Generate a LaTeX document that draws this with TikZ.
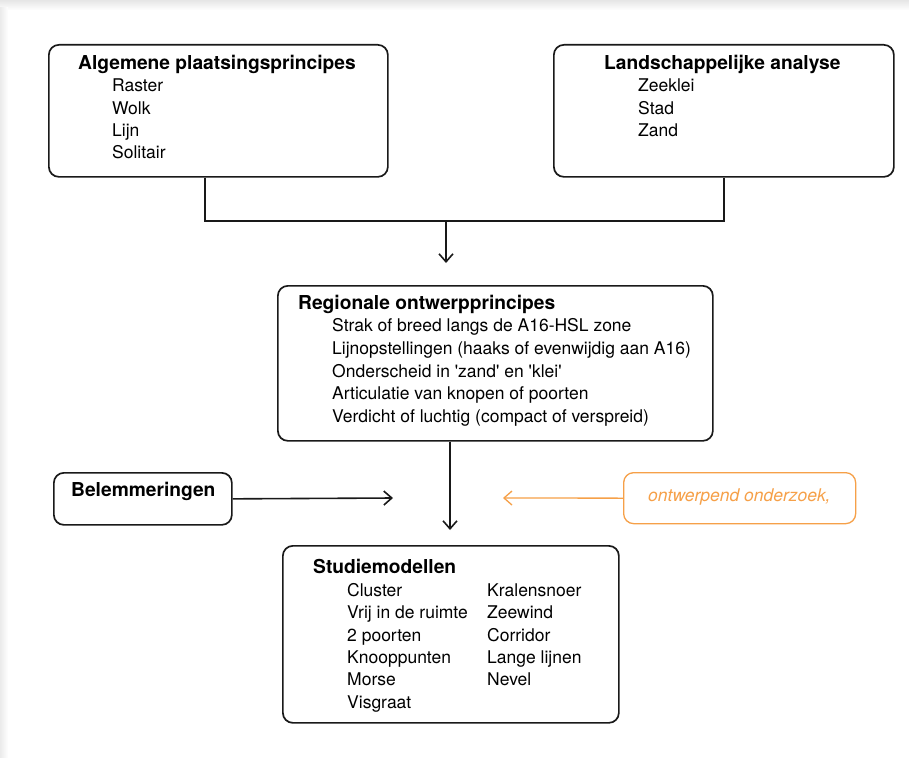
\documentclass[tikz,border=0pt]{standalone}
\usepackage{fontspec}
\setmainfont{TeX Gyre Heros}
\usetikzlibrary{arrows.meta}
\definecolor{inkline}{RGB}{25,25,25}
\definecolor{ochre}{RGB}{246,160,72}

\begin{document}
\begin{tikzpicture}[x=1pt,y=-1pt,
  box/.style={draw=inkline, line width=1.7pt, rounded corners=10pt, anchor=north west, inner sep=0pt},
  obox/.style={box, draw=ochre, line width=1.3pt},
  wire/.style={draw=inkline, line width=1.6pt},
  arr/.style={wire, -{Straight Barb[length=8pt,width=14pt,line width=1.6pt]}},
  oarr/.style={draw=ochre, line width=1.3pt, -{Straight Barb[length=8pt,width=14pt,line width=1.3pt]}},
  hd/.style={anchor=base west, inner sep=0pt, font=\fontsize{19.2}{21}\selectfont\bfseries},
  it/.style={anchor=base west, inner sep=0pt, font=\fontsize{17.5}{20}\selectfont}
]
% page and soft frame along top and left
\useasboundingbox (0,0) rectangle (909,757);
\fill[white] (0,0) rectangle (909,757);
\shade[top color=black!10, bottom color=white] (0,0) rectangle (909,10);
\shade[left color=black!8, right color=white] (0,8) rectangle (8,757);

% boxes
\node[box, minimum width=339pt, minimum height=132pt] (alg) at (48,44) {};
\node[box, minimum width=340pt, minimum height=132pt] (land) at (553,44) {};
\node[box, minimum width=435pt, minimum height=155pt] (reg) at (277,285) {};
\node[box, minimum width=178pt, minimum height=52pt] (bel) at (53,472) {};
\node[obox, minimum width=232pt, minimum height=51pt] (ond) at (623,472) {};
\node[box, minimum width=336pt, minimum height=177pt] (stud) at (282,545) {};

% texts (baselines)
\node[hd] (t1) at (78,70) {Algemene plaatsingsprincipes};
\node[it] (t1a) at (112,92) {Raster};
\node[it] (t1b) at (112,114) {Wolk};
\node[it] (t1c) at (112,136) {Lijn};
\node[it] (t1d) at (112,158) {Solitair};

\node[hd] (t2) at (604,70) {Landschappelijke analyse};
\node[it] (t2a) at (638,92) {Zeeklei};
\node[it] (t2b) at (638,114) {Stad};
\node[it] (t2c) at (638,136) {Zand};

\node[hd] (t3) at (298,309) {Regionale ontwerpprincipes};
\node[it] (t3a) at (332,331) {Strak of breed langs de A16-HSL zone};
\node[it] (t3b) at (332,354) {Lijnopstellingen (haaks of evenwijdig aan A16)};
\node[it] (t3c) at (332,377) {Onderscheid in \textquotesingle zand\textquotesingle{} en \textquotesingle klei\textquotesingle};
\node[it] (t3d) at (332,399) {Articulatie van knopen of poorten};
\node[it] (t3e) at (332,422) {Verdicht of luchtig (compact of verspreid)};

\node[hd] (t4) at (71,496) {Belemmeringen};
\node[it, text=ochre, font=\fontsize{17.5}{20}\selectfont\itshape] (t5) at (648,501) {ontwerpend onderzoek,};

\node[hd] (t6) at (313,573) {Studiemodellen};
\node[it] (s1) at (347,596) {Cluster};
\node[it] (s2) at (347,618) {Vrij in de ruimte};
\node[it] (s3) at (347,641) {2 poorten};
\node[it] (s4) at (347,663) {Knooppunten};
\node[it] (s5) at (347,685) {Morse};
\node[it] (s6) at (347,708) {Visgraat};
\node[it] (s7) at (487,596) {Kralensnoer};
\node[it] (s8) at (487,618) {Zeewind};
\node[it] (s9) at (487,641) {Corridor};
\node[it] (s10) at (487,663) {Lange lijnen};
\node[it] (s11) at (487,685) {Nevel};

% connectors
\coordinate (join) at (446,221);
\coordinate (into3) at (446,263);
\coordinate (into5) at (450,530);
\coordinate (belend) at (393,498);
\coordinate (ondend) at (503,498);
\draw[wire] (alg.south -| 205,0) |- (join) -| (land.south);
\draw[arr] (join) -- (into3);
\draw[arr] (reg.south -| into5) -- (into5);
\draw[arr] (bel.east) -- (belend);
\draw[oarr] (ond.west) -- (ondend);
\end{tikzpicture}
\end{document}
